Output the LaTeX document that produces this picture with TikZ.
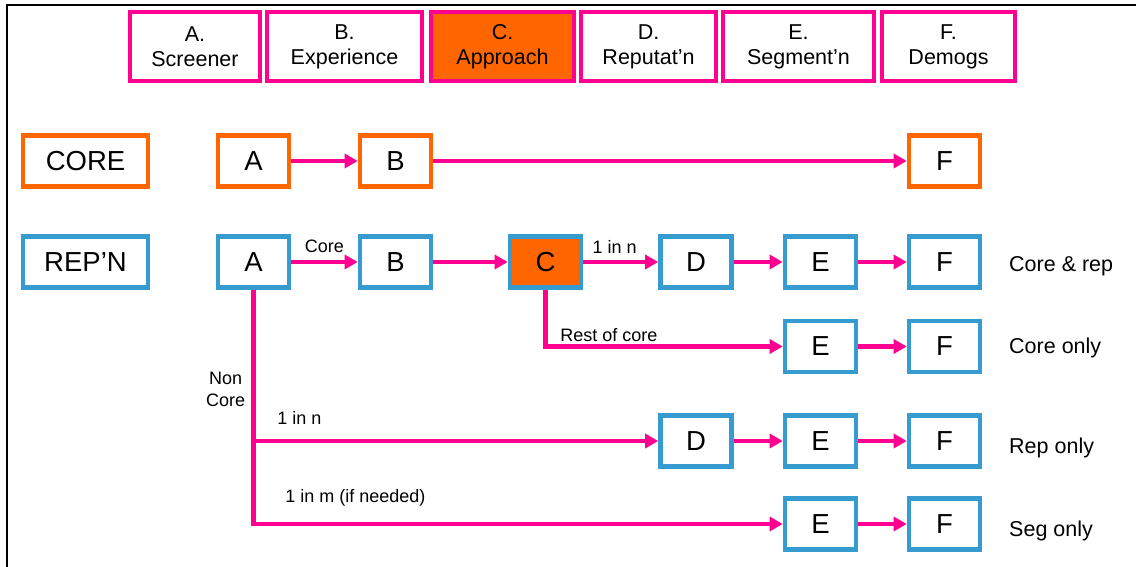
\documentclass[tikz,border=0pt]{standalone}
\usepackage{fontspec}
\setmainfont{Liberation Sans}
\usetikzlibrary{arrows.meta,positioning}
\definecolor{flowpink}{RGB}{255,0,144}
\definecolor{flowblue}{RGB}{54,155,206}
\definecolor{floworange}{RGB}{255,102,0}

\begin{document}
\begin{tikzpicture}[x=1pt,y=-1pt,
    hdr/.style={draw=flowpink,line width=4.6pt,minimum height=69pt,inner sep=0pt,align=center,font=\fontsize{21.5}{25}\selectfont},
    stage/.style={draw=#1,line width=4.6pt,minimum width=71pt,minimum height=51pt,inner sep=0pt,fill=white,font=\fontsize{27.5}{30}\selectfont},
    flow/.style={draw=flowpink,line width=4.8pt,-{Triangle[length=13pt,width=14pt]}},
    note/.style={font=\fontsize{18}{22}\selectfont,inner sep=0pt},
    tag/.style={font=\fontsize{21.5}{25}\selectfont,inner sep=0pt,anchor=west}]
    \useasboundingbox (0,0) rectangle (1136,567);
    \draw[line width=2pt] (7,567) -- (7,5) -- (1136,5); %frame
    % section headers
    \node[hdr,minimum width=130pt] (hA) at (195, 46.5) {A.\\Screener};
    \node[hdr,minimum width=155pt] (hB) at (344.5, 46.5) {B.\\Experience};
    \node[hdr,minimum width=143pt,fill=floworange] (hC) at (502.5, 46.5) {C.\\Approach};
    \node[hdr,minimum width=135pt] (hD) at (648.5, 46.5) {D.\\Reputat’n};
    \node[hdr,minimum width=151pt] (hE) at (798.5, 46.5) {E.\\Segment’n};
    \node[hdr,minimum width=133pt] (hF) at (948.5, 46.5) {F.\\Demogs};
    % core route
    \node[stage=floworange,minimum width=125pt] (core) at (85.5, 161) {CORE};
    \node[stage=floworange] (cA) at (253.5, 161) {A};
    \node[stage=floworange] (cB) at (395.5, 161) {B};
    \node[stage=floworange] (cF) at (944.5, 161) {F};
    \draw[flow] (cA) -- (cB);
    \draw[flow] (cB) -- (cF);
    % reputation route
    \node[stage=flowblue,minimum width=125pt] (repn) at (85.5, 262) {REP’N};
    \node[stage=flowblue] (rA) at (253.5, 262) {A};
    \node[stage=flowblue] (rB) at (395.5, 262) {B};
    \node[stage=flowblue,fill=floworange] (rC) at (545.5, 262) {C};
    \node[stage=flowblue] (rD) at (696, 262) {D};
    \node[stage=flowblue] (rE) at (820.5, 262) {E};
    \node[stage=flowblue] (rF) at (944.5, 262) {F};
    \node[stage=flowblue] (oE) at (820.5, 346.5) {E};
    \node[stage=flowblue] (oF) at (944.5, 346.5) {F};
    \node[stage=flowblue] (pD) at (696, 441) {D};
    \node[stage=flowblue] (pE) at (820.5, 441) {E};
    \node[stage=flowblue] (pF) at (944.5, 441) {F};
    \node[stage=flowblue] (sE) at (820.5, 524) {E};
    \node[stage=flowblue] (sF) at (944.5, 524) {F};
    \draw[flow] (rA) -- node[note,yshift=15.5pt] (lcore) {Core} (rB);
    \draw[flow] (rB) -- (rC);
    \draw[flow] (rC) -- node[note,yshift=15.5pt,xshift=-6pt] (lonen) {1 in n} (rD);
    \draw[flow] (rD) -- (rE);
    \draw[flow] (rE) -- (rF);
    \draw[flow] (rC.south) |- node[note,anchor=west,xshift=12.5pt,yshift=11.5pt] (lrest) {Rest of core} (oE);
    \draw[flow] (oE) -- (oF);
    \draw[flow] (rA.south) |- node[note,pos=.33,anchor=east,align=center,xshift=-6pt] (lnon) {Non\\Core}
        node[note,anchor=west,xshift=21.5pt,yshift=23.5pt] (lrep) {1 in n} (pD);
    \draw[flow] (pD) -- (pE);
    \draw[flow] (pE) -- (pF);
    \draw[flow] (rA.south) |- node[note,anchor=west,xshift=29.5pt,yshift=26.5pt] (lseg) {1 in m (if needed)} (sE);
    \draw[flow] (sE) -- (sF);
    % outcomes
    \node[tag] (tboth) at (1009, 266) {Core \& rep};
    \node[tag] (tcore) at (1009, 347.5) {Core only};
    \node[tag] (trep) at (1009, 447.5) {Rep only};
    \node[tag] (tseg) at (1009, 531) {Seg only};
\end{tikzpicture}
\end{document}
